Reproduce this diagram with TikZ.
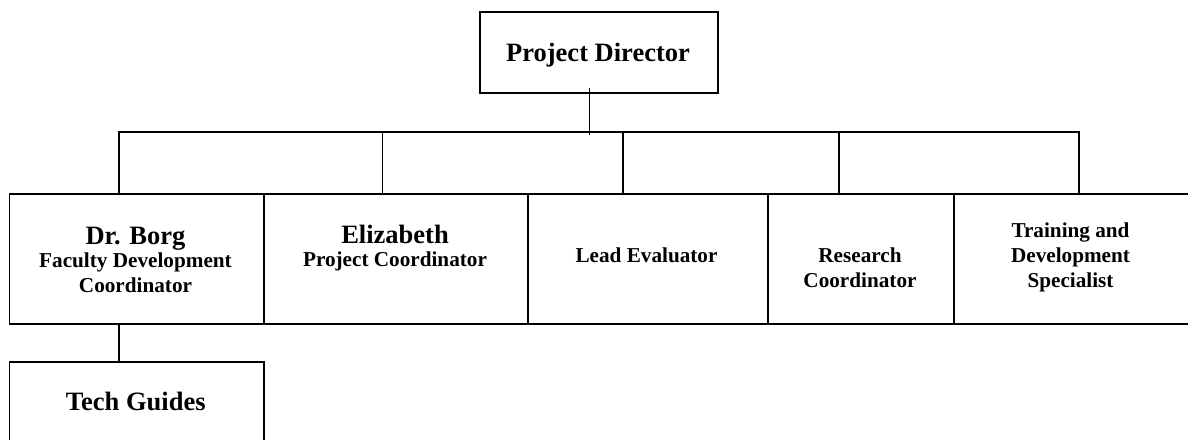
\documentclass[tikz,border=0pt]{standalone}
\usepackage{fontspec}
\setmainfont{Liberation Serif}
\usetikzlibrary{positioning}

\newcommand{\bigname}{\fontsize{26.5}{30}\selectfont\bfseries}
\newcommand{\smallname}{\fontsize{21.2}{25}\selectfont\bfseries}

\begin{document}
\begin{tikzpicture}[x=1pt,y=-1pt,
  box/.style={draw, line width=1.5pt, inner sep=0pt, anchor=north west, minimum height=130pt},
  link/.style={line width=1.4pt},
  big/.style={font=\bigname, anchor=base, inner sep=0pt},
  small/.style={font=\smallname, anchor=base, inner sep=0pt, align=center}]
\useasboundingbox (0,0) rectangle (1188,439);
\clip (0,0) rectangle (1188,439);

\node[box, minimum width=238pt, minimum height=81pt] (director) at (479,11) {};
\node[box, minimum width=254.5pt] (borg) at (8.5,193) {};
\node[box, minimum width=264pt] (eliz) at (263,193) {};
\node[box, minimum width=240pt] (lead) at (527,193) {};
\node[box, minimum width=186pt] (research) at (767,193) {};
\node[box, minimum width=237pt] (training) at (953,193) {};
\node[box, minimum width=254.5pt, minimum height=80pt] (tech) at (8.5,361) {};

% multi-line texts sit on the baseline of their last line
\node[big] (directortext) at (598,61) {Project Director};
\node[big] (borgname) at (135.5,244) {Dr. Borg};
\node[small] (borgrole) at (135.5,292) {Faculty Development\\Coordinator};
\node[big] (elizname) at (395,243) {Elizabeth};
\node[small] (elizrole) at (395,266.5) {Project Coordinator};
\node[small] (leadtext) at (646.5,262) {Lead Evaluator};
\node[small] (researchtext) at (860,287) {Research\\Coordinator};
\node[small] (trainingtext) at (1070.5,287) {Training and\\Development\\Specialist};
\node[big] (techtext) at (135.75,410) {Tech Guides};

\coordinate (busleft) at (119,132);
\coordinate (busright) at (1079,132);
\coordinate (tapeliz) at (382.5,132);
\coordinate (taplead) at (623,132);
\coordinate (tapresearch) at (839,132);

\draw[link] ([xshift=-9pt,yshift=6pt]director.south) -- ([xshift=-9pt,yshift=-3pt]director.south |- busleft);
\draw[link] (borg.north -| busleft) -- (busleft) -- (busright) -- (training.north -| busright);
\foreach \tap/\target in {tapeliz/eliz, taplead/lead, tapresearch/research}
  \draw[link] (\tap) -- (\target.north -| \tap);
\draw[link] (borg.south -| busleft) -- (tech.north -| busleft);
\end{tikzpicture}
\end{document}
